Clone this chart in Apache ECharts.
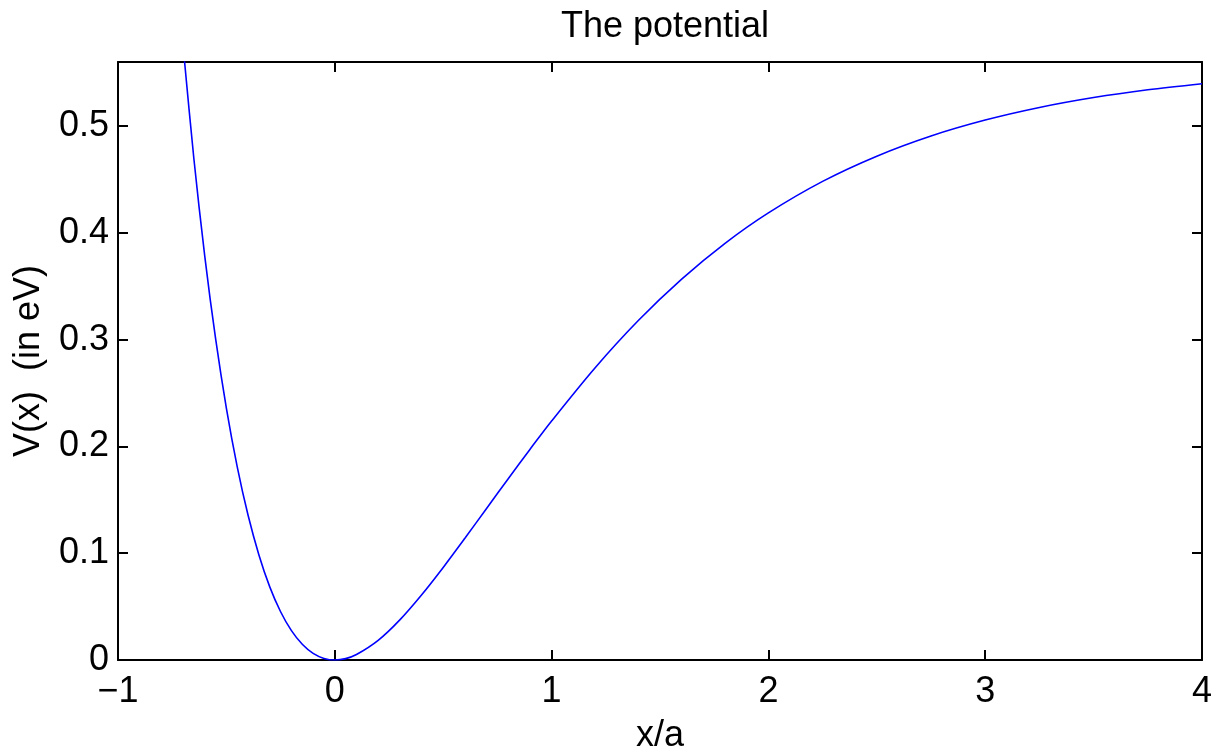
<!DOCTYPE html>
<html>
<head>
<meta charset="utf-8">
<script src="https://cdn.jsdelivr.net/npm/echarts@6/dist/echarts.min.js"></script>
<style>html,body{margin:0;padding:0;background:#fff}#c{width:1225px;height:749px}</style>
</head>
<body>
<div id="c"></div>
<script>
const xValues = [-0.7,-0.65,-0.6,-0.55,-0.5,-0.45,-0.4,-0.35,-0.3,-0.25,-0.2,-0.15,-0.1,-0.05,0,
  0.05,0.1,0.2,0.3,0.4,0.5,0.6,0.7,0.8,0.9,1.0,1.2,1.4,1.6,1.8,2.0,2.25,2.5,2.75,3.0,3.25,3.5,3.75,4.0];
const vValues = [0.5755,0.4694,0.3785,0.3011,0.2357,0.1809,0.1355,0.0984,0.0685,0.0452,0.0275,0.0147,0.0062,0.0015,0,
  0.0013,0.0051,0.0184,0.0376,0.0609,0.0867,0.1140,0.1419,0.1698,0.1972,0.2238,0.2735,0.3179,0.3567,0.3902,0.4187,0.4482,0.4718,0.4907,0.5056,0.5174,0.5267,0.5340,0.5397];
const titleText = 'The potential';
const xName = 'x/a';
const yName = 'V(x)  (in eV)';

const FONT = '"Liberation Sans", Arial, sans-serif';
const FS = 36;
const chart = echarts.init(document.getElementById('c'), null, {renderer: 'canvas'});
const axLine = {show: true, onZero: false, lineStyle: {color: '#000', width: 2}};
const tick = {show: true, inside: true, length: 10, lineStyle: {color: '#000', width: 2}};
chart.setOption({
  animation: false,
  backgroundColor: '#fff',
  title: {text: titleText, left: 660, top: 4, textAlign: 'center',
    textStyle: {fontFamily: FONT, fontSize: FS, fontWeight: 'normal', color: '#000'}},
  grid: {left: 118, right: 23, top: 62, bottom: 89, containLabel: false, outerBoundsMode: 'none'},
  xAxis: [{
    type: 'value', min: -1, max: 4, interval: 1, position: 'bottom',
    axisLine: axLine, axisTick: tick, splitLine: {show: false},
    axisLabel: {fontFamily: FONT, fontSize: FS, color: '#000', margin: 14,
      formatter: v => String(v).replace('-', '\u2212')},
    name: xName, nameLocation: 'middle', nameGap: 58,
    nameTextStyle: {fontFamily: FONT, fontSize: FS, color: '#000'}
  }, {
    type: 'value', min: -1, max: 4, interval: 1, position: 'top',
    axisLine: axLine, axisTick: tick, axisLabel: {show: false}, splitLine: {show: false}
  }],
  yAxis: [{
    type: 'value', min: 0, max: 0.56, interval: 0.1, position: 'left',
    axisLine: axLine, axisTick: tick, splitLine: {show: false},
    axisLabel: {fontFamily: FONT, fontSize: FS, color: '#000', margin: 9, showMaxLabel: false},
    name: yName, nameLocation: 'middle', nameGap: 71, nameRotate: 90,
    nameTextStyle: {fontFamily: FONT, fontSize: FS, color: '#000'}
  }, {
    type: 'value', min: 0, max: 0.56, interval: 0.1, position: 'right',
    axisLine: axLine, axisTick: tick, axisLabel: {show: false}, splitLine: {show: false}
  }],
  series: [{
    type: 'line', xAxisIndex: 0, yAxisIndex: 0,
    data: xValues.map((x, i) => [x, vValues[i]]),
    smooth: 0.3, showSymbol: false, clip: true,
    lineStyle: {color: '#0000ff', width: 1.6}
  }]
});
</script>
</body>
</html>
